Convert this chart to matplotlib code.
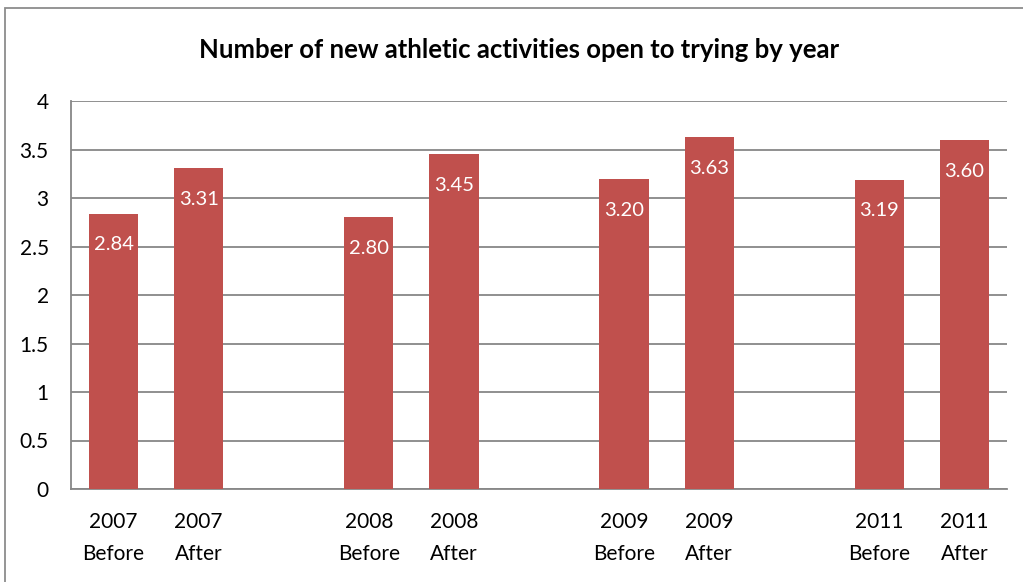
#!/usr/bin/env python3
# -*- coding: utf-8 -*-

import matplotlib
matplotlib.use("Agg")
import matplotlib.pyplot as plt
from matplotlib.patches import Rectangle

years = ["2007", "2008", "2009", "2011"]
phases = ["Before", "After"]
values = [2.84, 3.31, 2.80, 3.45, 3.20, 3.63, 3.19, 3.60]
yticks = [0, 0.5, 1, 1.5, 2, 2.5, 3, 3.5, 4]
ytick_labels = ["0", "0.5", "1", "1.5", "2", "2.5", "3", "3.5", "4"]

BAR = "#C0504D"
GRID = "#878787"
FONT = ["Lato", "DejaVu Sans"]

plt.rcParams["font.family"] = FONT

W, H = 1023, 582
fig = plt.figure(figsize=(W / 100, H / 100), dpi=100)

# chart frame, runs off the right and bottom edges
fig.add_artist(Rectangle((5 / W, -0.1), 1.2, 1 - 8 / H + 0.1, transform=fig.transFigure,
                         fill=False, edgecolor="#8c8c8c", linewidth=1.3))

ax = fig.add_axes([71 / W, (H - 489) / H, (1007 - 71) / W, (489 - 101) / H])

# each year gets two slots plus one empty slot after it
xs, labels = [], []
for g, yr in enumerate(years):
    for k, ph in enumerate(phases):
        xs.append(g * 3 + k)
        labels.append(f"{yr}\n{ph}")

bars = ax.bar(xs, values, width=0.58, color=BAR, zorder=3)
for b, v in zip(bars, values):
    ax.annotate(f"{v:.2f}", (b.get_x() + b.get_width() / 2, v), xytext=(0, -16.5),
                textcoords="offset points", ha="center", va="top",
                color="white", fontsize=14.5)

ax.set_xlim(-0.5, 10.5)
ax.set_ylim(0, 4)
ax.set_yticks(yticks)
ax.set_yticklabels(ytick_labels, fontsize=15)
ax.set_xticks(xs)
ax.set_xticklabels(labels, fontsize=15, linespacing=1.75)
ax.tick_params(axis="y", length=0, pad=16)
ax.tick_params(axis="x", length=0, pad=16.5)
ax.yaxis.grid(True, color=GRID, linewidth=1.3, zorder=0)
for s in ["top", "right"]:
    ax.spines[s].set_visible(False)
ax.spines["left"].set_color(GRID)
ax.spines["bottom"].set_color(GRID)
ax.spines["left"].set_linewidth(1.3)
ax.spines["bottom"].set_linewidth(1.3)

fig.text(519 / W, 1 - 50 / H, "Number of new athletic activities open to trying by year",
         ha="center", va="center", fontsize=18.5, fontweight="bold")

fig.savefig("out.png", dpi=100)
